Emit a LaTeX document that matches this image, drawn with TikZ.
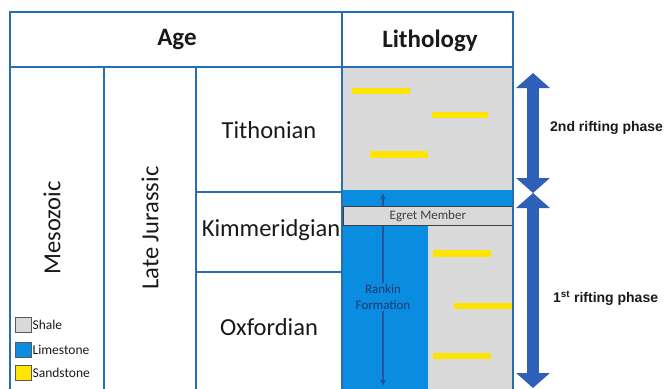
\documentclass[tikz,border=0pt]{standalone}
\usepackage{fontspec}
\setmainfont{Carlito}
\newfontfamily\arialfont{Liberation Sans}
\usetikzlibrary{arrows.meta}
\definecolor{tblue}{RGB}{40,110,180}
\definecolor{shalec}{RGB}{217,217,217}
\definecolor{limec}{RGB}{10,140,225}
\definecolor{sandc}{RGB}{255,228,0}
\definecolor{riftc}{RGB}{47,96,183}
\definecolor{navyc}{RGB}{25,55,110}
\definecolor{txt}{RGB}{25,25,25}
\tikzset{
  tline/.style={draw=tblue, line width=2pt},
  bar/.style={fill=sandc},
  head/.style={font=\fontsize{25}{28}\selectfont\bfseries, text=txt},
  stage/.style={font=\fontsize{24.5}{28}\selectfont, text=txt, inner sep=0pt},
  swatch/.style={draw=black!65, line width=0.8pt, minimum width=16pt, minimum height=15pt, inner sep=0pt},
  legtext/.style={font=\fontsize{13.5}{15}\selectfont, text=txt, anchor=west, inner sep=1pt},
  riftarrow/.style={draw=riftc, line width=12pt, arrows={Triangle[width=33pt,length=15pt]-Triangle[width=33pt,length=15pt]}},
  rankarrow/.style={draw=riftc!85!black, line width=1.1pt, arrows={Latex[length=6pt,width=6pt]-Latex[length=6pt,width=6pt]}},
  riftlabel/.style={font=\arialfont\fontsize{14}{16}\selectfont\bfseries, text=txt, anchor=west, inner sep=0pt}
}
\begin{document}
\begin{tikzpicture}[x=1pt,y=-1pt]
\useasboundingbox (0,0) rectangle (668,388);
% lithology fills
\fill[shalec] (342,67) rectangle (513,190);
\fill[limec] (342,190) rectangle (513,206);
\fill[limec] (342,225) rectangle (428,390);
\fill[shalec] (428,225) rectangle (513,390);
% sandstone bars
\fill[bar] (352,88) rectangle (410,94);
\fill[bar] (432,112) rectangle (488,118);
\fill[bar] (370,151) rectangle (428,158);
\fill[bar] (433,250) rectangle (491,257);
\fill[bar] (454,303) rectangle (513,309);
\fill[bar] (433,353) rectangle (491,359);
% Rankin arrow
\coordinate (rt) at (383,193);
\coordinate (rb) at (383,386);
\draw[rankarrow] (rt) -- (rb);
\node[fill=limec, inner sep=1pt, align=center, text=navyc, font=\fontsize{13}{16}\selectfont] (rankin) at (383,297) {Rankin\\Formation};
% Egret member
\node[draw=black!75, line width=0.8pt, fill=shalec, minimum width=169pt, minimum height=19pt, anchor=north west, inner sep=0pt, font=\fontsize{13}{15}\selectfont, text=black!75] (egret) at (343,206) {Egret Member};
% table lines
\draw[tline] (10,390) -- (10,12) -- (513,12) -- (513,390);
\draw[tline] (10,67) -- (513,67);
\draw[tline] (342,12) -- (342,390);
\draw[tline] (104,67) -- (104,390);
\draw[tline] (196,67) -- (196,390);
\draw[tline] (196,192) -- (342,192);
\draw[tline] (196,272) -- (342,272);
% headers
\node[head] (age) at (177,40) {Age};
\node[head] (lith) at (430,41) {Lithology};
% stages
\node[stage] (tith) at (269,130) {Tithonian};
\node[stage] (kimm) at (271,230) {Kimmeridgian};
\node[stage] (oxf) at (269,327) {Oxfordian};
\node[stage, rotate=90] (meso) at (52,228) {Mesozoic};
\node[stage, rotate=90] (latej) at (150,228) {Late Jurassic};
% legend
\node[swatch, fill=shalec] (sw1) at (23,325) {};
\node[swatch, fill=limec] (sw2) at (23,350) {};
\node[swatch, fill=sandc] (sw3) at (23,373) {};
\node[legtext] (l1) at (sw1.east) {Shale};
\node[legtext] (l2) at (sw2.east) {Limestone};
\node[legtext] (l3) at (sw3.east) {Sandstone};
% rifting arrows
\coordinate (a2t) at (533,73);
\coordinate (a2b) at (533,193);
\coordinate (a1t) at (533,193);
\coordinate (a1b) at (533,388);
\draw[riftarrow] (a2t) -- (a2b);
\draw[riftarrow] (a1t) -- (a1b);
\node[riftlabel] (r2) at (550,128) {2nd rifting phase};
\node[riftlabel] (r1) at (553,298) {1\textsuperscript{st} rifting phase};
\end{tikzpicture}
\end{document}
